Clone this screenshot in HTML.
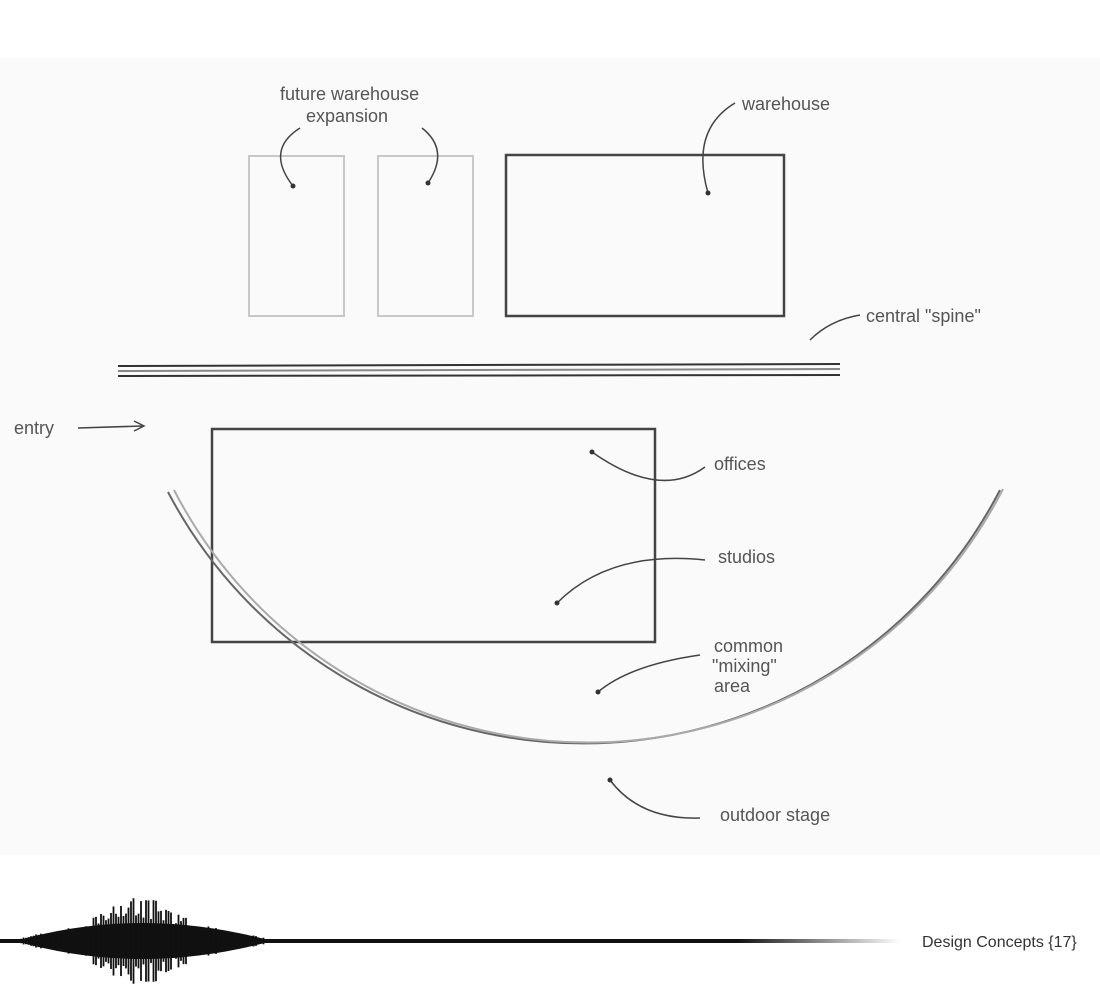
<!DOCTYPE html>
<html><head><meta charset="utf-8"><style>
body{margin:0;width:1100px;height:1000px;background:#fff;overflow:hidden}
svg{display:block}
text{font-family:"Liberation Sans",sans-serif;fill:#555}
</style></head><body>
<svg id="s" width="1100" height="1000" viewBox="0 0 1100 1000">
<defs>
<linearGradient id="fade" x1="0" x2="1"><stop offset="0.82" stop-color="#111"/><stop offset="1" stop-color="#111" stop-opacity="0"/></linearGradient>
</defs>
<rect x="0" y="58" width="1100" height="797" fill="#fafafa"/>
<g stroke="#c8c8c8" stroke-width="2" fill="none">
<rect x="249" y="156" width="95" height="160"/>
<rect x="378" y="156" width="95" height="160"/>
</g>
<rect x="506" y="155" width="278" height="161" stroke="#444" stroke-width="2.5" fill="none"/>
<g stroke-width="2">
<line x1="118" y1="366" x2="840" y2="364" stroke="#333"/>
<line x1="118" y1="371" x2="840" y2="369" stroke="#888"/>
<line x1="118" y1="376" x2="840" y2="375" stroke="#333"/>
</g>
<rect x="212" y="429" width="443" height="213" stroke="#444" stroke-width="2.5" fill="none"/>
<path d="M168 492 A469 469 0 0 0 1000 490" stroke="#666" stroke-width="2" fill="none"/>
<path d="M174 490 A466 466 0 0 0 1003 489" stroke="#aaa" stroke-width="2" fill="none"/>
<g stroke="#444" stroke-width="1.5" fill="none">
<path d="M300 128 Q265 150 293 186"/>
<path d="M422 128 Q450 150 428 183"/>
<path d="M735 103 Q690 130 708 193"/>
<path d="M860 315 Q830 320 810 340"/>
<path d="M78 428 L142 426 M134 421 L144 426 L134 431"/>
<path d="M705 467 Q660 500 592 452"/>
<path d="M705 560 Q610 550 557 603"/>
<path d="M700 655 Q630 665 598 692"/>
<path d="M700 818 Q640 820 610 780"/>
</g>
<g fill="#333"><circle cx="293" cy="186" r="2.5"/><circle cx="428" cy="183" r="2.5"/><circle cx="708" cy="193" r="2.5"/><circle cx="592" cy="452" r="2.5"/><circle cx="557" cy="603" r="2.5"/><circle cx="598" cy="692" r="2.5"/><circle cx="610" cy="780" r="2.5"/></g>
<g font-size="18">
<text x="280" y="100">future warehouse</text>
<text x="306" y="122">expansion</text>
<text x="742" y="110">warehouse</text>
<text x="866" y="322">central "spine"</text>
<text x="14" y="434">entry</text>
<text x="714" y="470">offices</text>
<text x="718" y="563">studios</text>
<text x="714" y="652">common</text>
<text x="712" y="672">"mixing"</text>
<text x="714" y="692">area</text>
<text x="720" y="821">outdoor stage</text>
</g>
<rect x="0" y="939" width="900" height="4" fill="url(#fade)"/>
<path d="M16 941 Q140 905 272 941 Q140 977 16 941 Z" fill="#111"/>
<g id="wave" stroke="#111" stroke-width="1.8"></g>
<text x="922" y="947" font-size="16" style="fill:#333">Design Concepts  {17}</text>
</svg>
<script>
var g=document.getElementById('wave'),h='';
function rnd(x){var s=Math.sin(x*12.9898)*43758.5453;return s-Math.floor(s);}
for(var x=16;x<=270;x+=2.5){
 var t=(x-16)/254;
 var env=Math.exp(-Math.pow((x-140)/45,2))*30+15*Math.pow(Math.sin(Math.PI*t),0.6);
 var a=env*(0.5+0.5*rnd(x));
 h+='<line x1="'+x+'" x2="'+x+'" y1="'+(941-a)+'" y2="'+(941+a)+'"/>';
}
g.innerHTML=h;
</script>
</body></html>
